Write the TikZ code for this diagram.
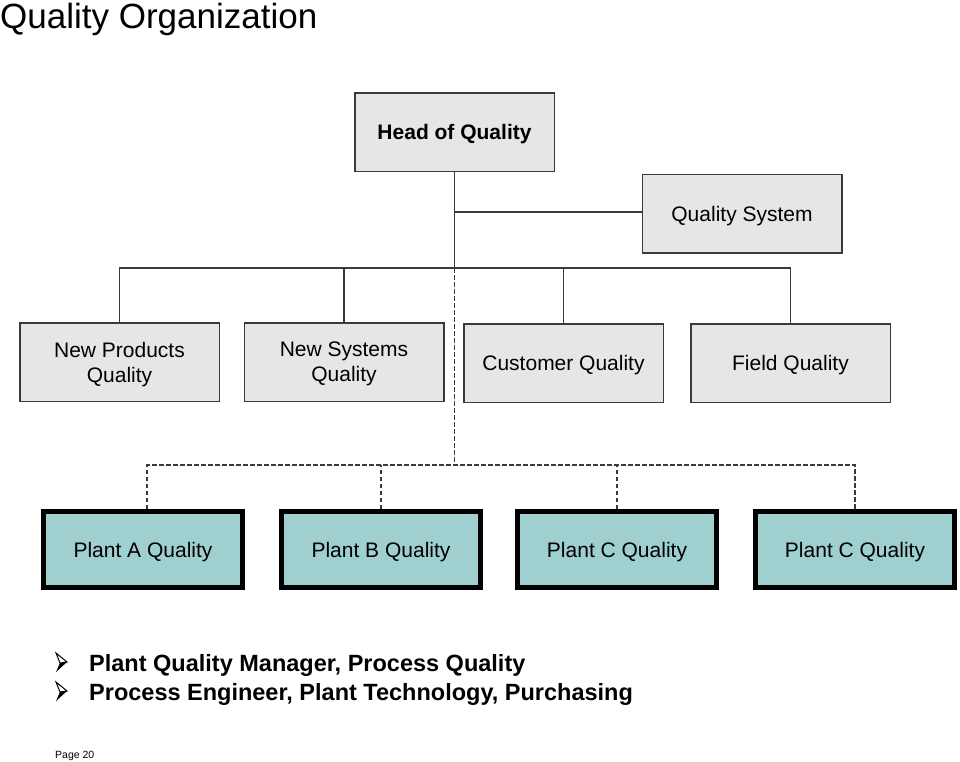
\documentclass[tikz,border=0pt]{standalone}
\usepackage{fontspec}
\setmainfont{Liberation Sans}
\definecolor{boxgray}{HTML}{E6E6E6}
\definecolor{linegray}{HTML}{3A3A3A}
\definecolor{plantteal}{HTML}{9FCFCF}
\begin{document}
\begin{tikzpicture}[x=1pt,y=-1pt,
  txt/.style={inner sep=0pt,anchor=base west},
  box/.style={draw=linegray,fill=boxgray,line width=1.5pt,minimum width=199.5pt,
    minimum height=78.5pt,inner sep=0pt,text depth=0pt,align=center,
    font=\fontsize{21}{25}\selectfont},
  plant/.style={draw=black,fill=plantteal,line width=5pt,minimum width=199pt,
    minimum height=76pt,inner sep=0pt,text depth=0pt,font=\fontsize{21}{25}\selectfont},
  link/.style={draw=linegray,line width=1.5pt},
  dlink/.style={link,dash pattern=on 4.5pt off 2.5pt}]
\useasboundingbox (0,0) rectangle (960,761);

% title
\node[txt,font=\fontsize{35}{40}\selectfont] (title) at (0,28) {Quality Organization};

% top levels
\node[box,font=\bfseries\fontsize{21}{25}\selectfont] (head) at (454.5,132) {Head of Quality};
\node[box] (qs) at (742,213.5) {Quality System};
\node[box] (np) at (119.5,362) {New Products\\Quality};
\node[box] (ns) at (344,362) {New Systems\\Quality};
\node[box] (cq) at (563.5,363) {Customer Quality};
\node[box] (fq) at (790.5,363) {Field Quality};

% plants
\node[plant] (pa) at (143,549.5) {Plant A Quality};
\node[plant] (pb) at (381,549.5) {Plant B Quality};
\node[plant] (pc) at (617,549.5) {Plant C Quality};
\node[plant] (pd) at (855,549.5) {Plant C Quality};

% solid lines
\coordinate (split) at (454.5,212);
\coordinate (bus) at (454.5,268);
\draw[link] (head.south) -- (bus);
\draw[link] (split) -- (split -| qs.west);
\draw[link] (np.north) |- (bus) -| (fq.north);
\draw[link] (ns.north) -- (ns.north |- bus);
\draw[link] (cq.north) -- (cq.north |- bus);

% dashed lines
\coordinate (dbus) at (454.5,465);
\draw[dlink] (bus) -- (dbus);
\draw[dlink] ([xshift=4pt]pa.north) |- (dbus) -| (pd.north);
\draw[dlink] (pb.north) -- (pb.north |- dbus);
\draw[dlink] (pc.north) -- (pc.north |- dbus);

% bullets
\foreach \yb in {671,700}{
  \draw[line width=1pt,fill=white,line join=miter] (56,\yb-18) -- (67,\yb-9) -- (60,\yb-8) -- cycle;
  \fill[black] (60,\yb-8) -- (67,\yb-9) -- (56,\yb+1) -- cycle;
}
\node[txt,font=\bfseries\fontsize{23.5}{28}\selectfont] (t1) at (89,671) {Plant Quality Manager, Process Quality};
\node[txt,font=\bfseries\fontsize{23.5}{28}\selectfont] (t2) at (89,700) {Process Engineer, Plant Technology, Purchasing};

\node[txt,font=\fontsize{10.5}{12}\selectfont] (page) at (55,758) {Page 20};
\end{tikzpicture}
\end{document}
